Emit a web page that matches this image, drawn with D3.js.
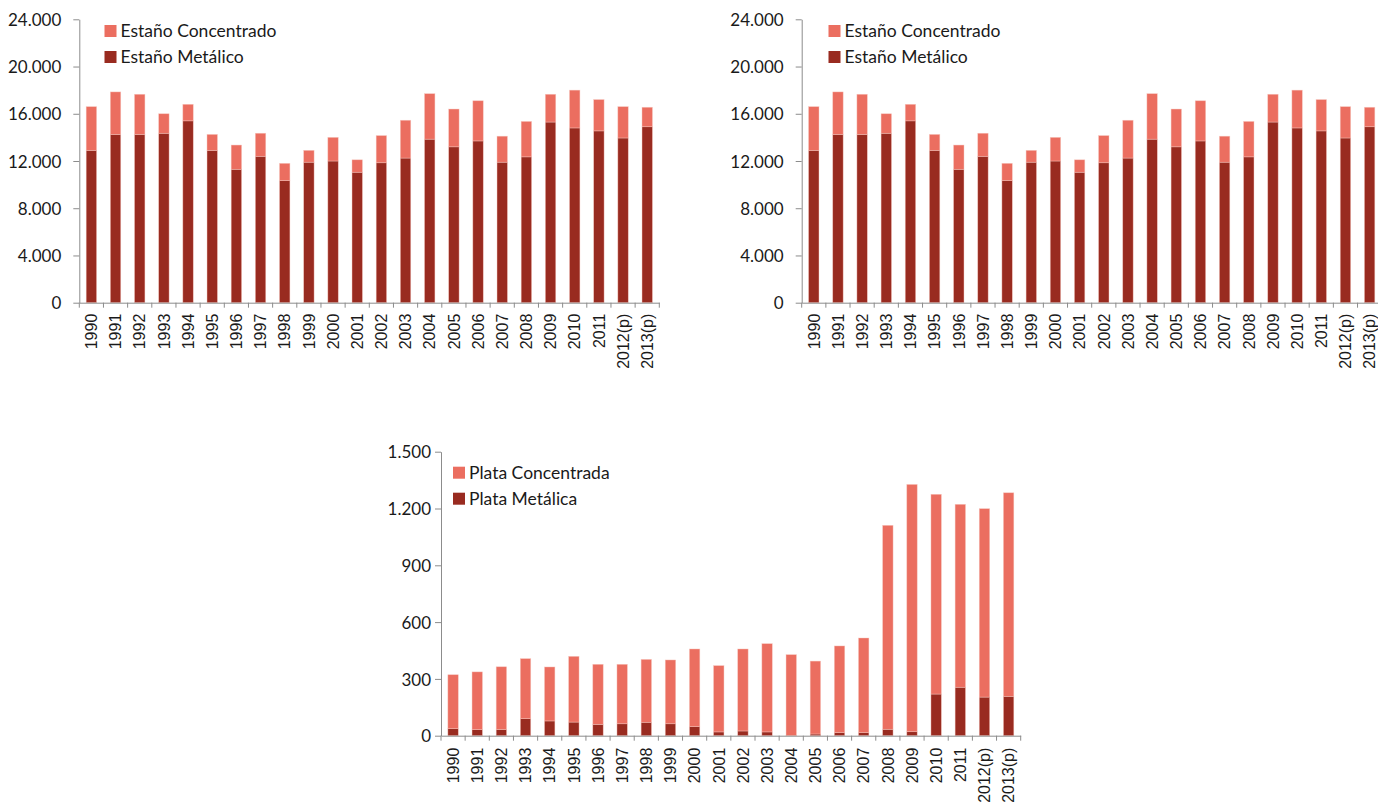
<!DOCTYPE html>
<html>
<head>
<meta charset="utf-8">
<script src="https://cdn.jsdelivr.net/npm/d3@7"></script>
<style>
  html, body { margin: 0; padding: 0; background: #ffffff; }
  svg { display: block; }
</style>
</head>
<body>
<svg id="chart" width="1378" height="810"></svg>
<script>
// ---------------- DATA ----------------
const categories = ["1990","1991","1992","1993","1994","1995","1996","1997","1998","1999","2000",
  "2001","2002","2003","2004","2005","2006","2007","2008","2009","2010","2011","2012(p)","2013(p)"];

const estanoMetalico = [12900,14250,14250,14350,15400,12900,11300,12400,10350,11900,12000,
  11050,11850,12250,13850,13200,13700,11900,12350,15300,14800,14550,13950,14900];
const estanoConcentrado = [3700,3600,3400,1650,1400,1350,2050,1950,1450,1000,2000,
  1050,2300,3200,3850,3200,3400,2200,3000,2350,3200,2650,2650,1650];

const plataMetalica = [37,32,33,90,78,72,60,63,71,63,48,
  20,25,20,1,9,16,16,34,21,220,256,204,208];
const plataConcentrada = [285,305,331,317,285,347,317,314,332,337,410,
  350,433,466,427,385,458,500,1077,1306,1055,966,995,1075];

const estanoTicks = [0,4000,8000,12000,16000,20000,24000];
const estanoTickLabels = ["0","4.000","8.000","12.000","16.000","20.000","24.000"];
const plataTicks = [0,300,600,900,1200,1500];
const plataTickLabels = ["0","300","600","900","1.200","1.500"];

const estanoSeries = ["Estaño Concentrado","Estaño Metálico"];
const plataSeries = ["Plata Concentrada","Plata Metálica"];

// ---------------- STYLE ----------------
const DARK = "#992B20";
const LIGHT = "#EB6E60";
const AXIS = "#8C8C8C";
const TEXT = "#1A1A1A";

const svg = d3.select("#chart");

function drawChart(cfg) {
  const g = svg.append("g");
  const x = d3.scaleBand().domain(categories).range([cfg.x0, cfg.x1]).paddingInner(0).paddingOuter(0);
  const y = d3.scaleLinear().domain([0, cfg.max]).range([cfg.y0, cfg.y1]);

  const rows = categories.map((c, i) => ({ cat: c, metal: cfg.metal[i], conc: cfg.conc[i] }));
  const stack = d3.stack().keys(["metal", "conc"])(rows);
  const colors = { metal: DARK, conc: LIGHT };
  const bw = x.bandwidth() * 0.43;

  // bars
  stack.forEach(layer => {
    g.append("g").selectAll("rect").data(layer).join("rect")
      .attr("x", d => x(d.data.cat) + (x.bandwidth() - bw) / 2)
      .attr("y", d => y(d[1]))
      .attr("width", bw)
      .attr("height", d => Math.max(0, y(d[0]) - y(d[1])))
      .attr("fill", colors[layer.key])
      .attr("stroke", "#F6C4BC")
      .attr("stroke-width", 0.6)
      .attr("stroke-opacity", 0.7);
  });

  // y axis
  const yAxis = d3.axisLeft(y).tickValues(cfg.ticks).tickSize(6).tickSizeOuter(0)
    .tickFormat((d, i) => cfg.tickLabels[i]).tickPadding(cfg.labelGap);
  const ya = g.append("g").attr("transform", `translate(${cfg.x0},0)`).call(yAxis);
  ya.select(".domain").attr("stroke", AXIS);
  ya.selectAll(".tick line").attr("stroke", AXIS);
  ya.selectAll(".tick text")
    .attr("fill", TEXT)
    .style("font-family", "Lato, 'Open Sans', sans-serif")
    .style("font-size", "17px")
    .attr("dy", "0.36em");

  // x axis line
  const xAxis = d3.axisBottom(x).tickSize(0).tickFormat("");
  const xa = g.append("g").attr("transform", `translate(0,${cfg.y0})`).call(xAxis);
  xa.select(".domain").attr("stroke", AXIS);
  // boundary ticks
  const bounds = categories.map(c => x(c)).concat([x(categories[categories.length - 1]) + x.bandwidth()]);
  g.append("g").selectAll("line").data(bounds).join("line")
    .attr("x1", d => d).attr("x2", d => d)
    .attr("y1", cfg.y0).attr("y2", cfg.y0 + 5)
    .attr("stroke", AXIS);

  // x labels (rotated)
  g.append("g").selectAll("text").data(categories).join("text")
    .attr("transform", d => `translate(${x(d) + x.bandwidth() / 2},${cfg.y0 + cfg.xLabelGap}) rotate(-90)`)
    .attr("text-anchor", "end")
    .attr("dy", "0.36em")
    .attr("fill", TEXT)
    .style("font-family", "'Liberation Sans', Arial, sans-serif")
    .style("font-size", "16px")
    .text(d => d);

  // legend
  const leg = g.append("g").attr("transform", `translate(${cfg.legX},${cfg.legY})`);
  const items = [{ name: cfg.series[0], color: LIGHT }, { name: cfg.series[1], color: DARK }];
  items.forEach((it, i) => {
    const row = leg.append("g").attr("transform", `translate(0,${i * 26})`);
    row.append("rect").attr("x", 0).attr("y", -6).attr("width", 12).attr("height", 12).attr("fill", it.color);
    row.append("text").attr("x", 16).attr("y", 0).attr("dy", "0.36em")
      .attr("fill", TEXT)
      .style("font-family", "Lato, 'Open Sans', sans-serif")
      .style("font-size", "17.5px")
      .text(it.name);
  });
}

drawChart({
  x0: 79.3, x1: 659.3, y0: 302.7, y1: 19.3, max: 24000,
  metal: estanoMetalico, conc: estanoConcentrado,
  ticks: estanoTicks, tickLabels: estanoTickLabels, labelGap: 12,
  xLabelGap: 11, legX: 104.5, legY: 31, series: estanoSeries
});
drawChart({
  x0: 801.7, x1: 1381.7, y0: 302.7, y1: 19.3, max: 24000,
  metal: estanoMetalico, conc: estanoConcentrado,
  ticks: estanoTicks, tickLabels: estanoTickLabels, labelGap: 12,
  xLabelGap: 11, legX: 828.5, legY: 31, series: estanoSeries
});
drawChart({
  x0: 441, x1: 1020.7, y0: 735.7, y1: 451.7, max: 1500,
  metal: plataMetalica, conc: plataConcentrada,
  ticks: plataTicks, tickLabels: plataTickLabels, labelGap: 4,
  xLabelGap: 12, legX: 453, legY: 472.7, series: plataSeries
});
</script>
</body>
</html>
